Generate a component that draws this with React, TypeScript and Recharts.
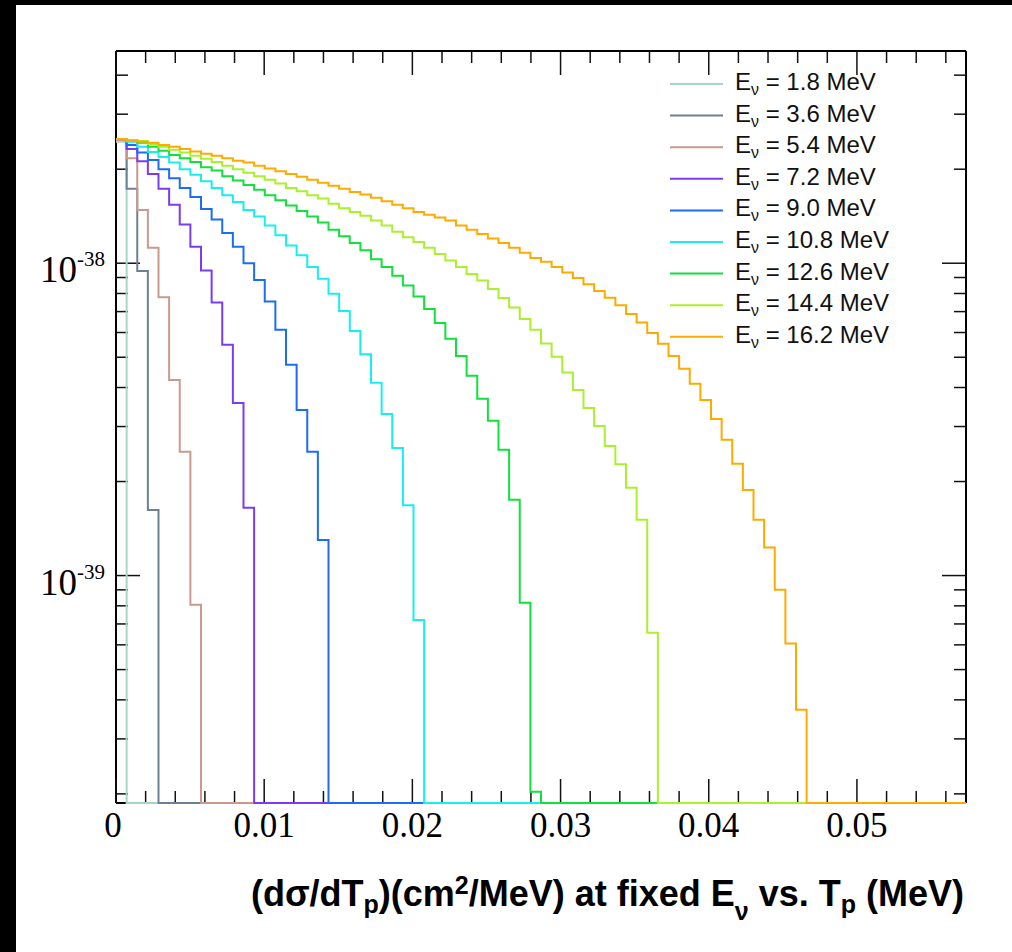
import { Line, LineChart, XAxis, YAxis } from "recharts"

// dσ/dT_p histograms, 80 bins from 0 to X_MAX, one per neutrino energy.
// Values are in units of 1e-38 cm^2/MeV; bins past the end of a list are empty.
const BIN_COUNT = 80
const X_MAX = 0.05736
const Y_MIN = 1.87e-40
const Y_MAX = 4.78e-38
const UNIT = 1e-38

const energies = ["1.8", "3.6", "5.4", "7.2", "9.0", "10.8", "12.6", "14.4", "16.2"]
const colors = ["#a6d6c8", "#6e8094", "#c99a8c", "#7a3cf2", "#1c6cf6", "#18eeee", "#12e03e", "#aaf02c", "#ffaa00"]

const ev18 = [2.45]
const ev36 = [2.48, 1.73, 0.945, 0.162]
const ev54 = [2.48, 2.17, 1.48, 1.12, 0.778, 0.423, 0.249, 0.0806]
const ev72 = [2.5, 2.32, 2.12, 1.93, 1.73, 1.54, 1.33, 1.13, 0.947, 0.748, 0.548, 0.357, 0.165]
const ev90 = [
  2.5, 2.39, 2.26, 2.14, 2.0, 1.87, 1.74, 1.63, 1.49, 1.38, 1.25, 1.13, 1.0, 0.884, 0.754, 0.612, 0.473,
  0.339, 0.249, 0.13,
]
const ev108 = [
  2.5, 2.45, 2.36, 2.27, 2.19, 2.1, 2.0, 1.92, 1.83, 1.74, 1.65, 1.57, 1.48, 1.41, 1.32, 1.23, 1.14, 1.06,
  0.973, 0.891, 0.798, 0.703, 0.607, 0.511, 0.414, 0.329, 0.256, 0.168, 0.0721,
]
const ev126 = [
  2.5, 2.48, 2.43, 2.36, 2.29, 2.22, 2.17, 2.11, 2.03, 1.98, 1.9, 1.84, 1.78, 1.72, 1.65, 1.59, 1.53, 1.47,
  1.41, 1.35, 1.28, 1.22, 1.16, 1.1, 1.03, 0.973, 0.911, 0.849, 0.783, 0.714, 0.644, 0.573, 0.505, 0.436,
  0.368, 0.313, 0.253, 0.175, 0.0818, 0.0203,
]
const ev144 = [
  2.5, 2.48, 2.46, 2.41, 2.36, 2.31, 2.26, 2.21, 2.16, 2.11, 2.05, 2.0, 1.95, 1.9, 1.85, 1.8, 1.74, 1.7,
  1.65, 1.61, 1.55, 1.5, 1.46, 1.42, 1.37, 1.32, 1.26, 1.21, 1.17, 1.12, 1.07, 1.02, 0.973, 0.924, 0.881,
  0.827, 0.774, 0.722, 0.663, 0.612, 0.553, 0.502, 0.447, 0.393, 0.344, 0.301, 0.26, 0.227, 0.191, 0.151,
  0.0656,
]
const ev162 = [
  2.5, 2.47, 2.45, 2.43, 2.39, 2.36, 2.32, 2.28, 2.24, 2.21, 2.17, 2.13, 2.1, 2.05, 2.01, 1.97, 1.93, 1.89,
  1.85, 1.81, 1.77, 1.73, 1.69, 1.66, 1.62, 1.58, 1.54, 1.5, 1.46, 1.43, 1.4, 1.37, 1.32, 1.28, 1.24, 1.2,
  1.16, 1.12, 1.08, 1.04, 1.01, 0.973, 0.933, 0.897, 0.857, 0.815, 0.775, 0.733, 0.688, 0.646, 0.598,
  0.552, 0.505, 0.459, 0.411, 0.365, 0.317, 0.272, 0.228, 0.188, 0.151, 0.123, 0.09, 0.0606, 0.0372,
]
const seriesValues = [ev18, ev36, ev54, ev72, ev90, ev108, ev126, ev144, ev162]

const xTicks = [
  0, 0.002, 0.004, 0.006, 0.008, 0.01, 0.012, 0.014, 0.016, 0.018, 0.02, 0.022, 0.024, 0.026, 0.028, 0.03,
  0.032, 0.034, 0.036, 0.038, 0.04, 0.042, 0.044, 0.046, 0.048, 0.05, 0.052, 0.054, 0.056,
]
const yTicks = [
  2e-40, 3e-40, 4e-40, 5e-40, 6e-40, 7e-40, 8e-40, 9e-40, 1e-39, 2e-39, 3e-39, 4e-39, 5e-39, 6e-39, 7e-39,
  8e-39, 9e-39, 1e-38, 2e-38, 3e-38, 4e-38,
]

// empty bins sit on the bottom of the frame, as in a ROOT log plot
const data = Array.from({ length: BIN_COUNT + 1 }, (_, i) => {
  const row: Record<string, number> = { t: (i * X_MAX) / BIN_COUNT }
  seriesValues.forEach((vals, s) => {
    const v = i < BIN_COUNT ? vals[i] ?? 0 : 0
    row[`s${s}`] = v > 0 ? v * UNIT : Y_MIN
  })
  return row
})

const SERIF = "'Liberation Serif', 'Times New Roman', serif"
const SANS = "'Liberation Sans', Arial, Helvetica, sans-serif"
const TICK = "#111"
const W = 1012
const H = 952
// plot frame: x 116..966, y 51..803
const plotMargin = { top: 51, right: 46, bottom: 149, left: 116 }

const isMajorX = (v: number) => Math.round(v * 1000) % 10 === 0
const isMajorY = (v: number) => Math.abs(Math.log10(v) - Math.round(Math.log10(v))) < 1e-6

function BottomTick({ x, y, payload }: any) {
  const major = isMajorX(payload.value)
  return (
    <g>
      <line x1={x} x2={x} y1={y} y2={y - (major ? 24 : 12)} stroke={TICK} strokeWidth={1.5} />
      {major && (
        <text
          x={payload.value === 0 ? x - 3 : x}
          y={y + 34}
          textAnchor="middle"
          fontFamily={SERIF}
          fontSize={35}
          fill="#000"
        >
          {payload.value === 0 ? "0" : payload.value.toFixed(2)}
        </text>
      )}
    </g>
  )
}

function TopTick({ x, y, payload }: any) {
  const major = isMajorX(payload.value)
  return <line x1={x} x2={x} y1={y} y2={y + (major ? 24 : 12)} stroke={TICK} strokeWidth={1.5} />
}

function LeftTick({ x, y, payload }: any) {
  const major = isMajorY(payload.value)
  const exp = Math.round(Math.log10(payload.value))
  return (
    <g>
      <line x1={x} x2={x + (major ? 24 : 12)} y1={y} y2={y} stroke={TICK} strokeWidth={1.5} />
      {major && (
        <text x={x - 11} y={y + 19} textAnchor="end" fontFamily={SERIF} fontSize={37} fill="#000">
          10
          <tspan fontSize={21} dy={-16}>
            {exp}
          </tspan>
        </text>
      )}
    </g>
  )
}

function RightTick({ x, y, payload }: any) {
  const major = isMajorY(payload.value)
  return <line x1={x} x2={x - (major ? 24 : 12)} y1={y} y2={y} stroke={TICK} strokeWidth={1.5} />
}

const axisLine = { stroke: "#000", strokeWidth: 2 }

// frame, ticks and labels
function Frame() {
  return (
    <LineChart width={W} height={H} data={data} margin={{ top: 41, right: 36, bottom: 89, left: 16 }}>
      <XAxis
        dataKey="t"
        type="number"
        domain={[0, X_MAX]}
        ticks={xTicks}
        interval={0}
        height={60}
        tickSize={0}
        tickMargin={0}
        tickLine={false}
        axisLine={axisLine}
        tick={BottomTick}
      />
      <XAxis
        xAxisId="top"
        dataKey="t"
        orientation="top"
        type="number"
        domain={[0, X_MAX]}
        ticks={xTicks}
        interval={0}
        height={10}
        tickSize={0}
        tickMargin={0}
        tickLine={false}
        axisLine={axisLine}
        tick={TopTick}
      />
      <YAxis
        dataKey="s8"
        type="number"
        scale="log"
        domain={[Y_MIN, Y_MAX]}
        ticks={yTicks}
        interval={0}
        width={100}
        tickSize={0}
        tickMargin={0}
        tickLine={false}
        axisLine={axisLine}
        tick={LeftTick}
      />
      <YAxis
        yAxisId="right"
        dataKey="s8"
        orientation="right"
        type="number"
        scale="log"
        domain={[Y_MIN, Y_MAX]}
        ticks={yTicks}
        interval={0}
        width={10}
        tickSize={0}
        tickMargin={0}
        tickLine={false}
        axisLine={axisLine}
        tick={RightTick}
      />
      <Line dataKey="s8" stroke="none" dot={false} activeDot={false} isAnimationActive={false} />
      <Line
        yAxisId="right"
        xAxisId="top"
        dataKey="s8"
        stroke="none"
        dot={false}
        activeDot={false}
        isAnimationActive={false}
      />
    </LineChart>
  )
}

// histograms, drawn above the frame so empty bins colour the bottom edge
function Histograms() {
  return (
    <LineChart width={W} height={H} data={data} margin={plotMargin}>
      <XAxis dataKey="t" type="number" domain={[0, X_MAX]} hide />
      <YAxis type="number" scale="log" domain={[Y_MIN, Y_MAX]} hide />
      {energies.map((e, s) => (
        <Line
          key={e}
          dataKey={`s${s}`}
          name={`E = ${e} MeV`}
          type="stepAfter"
          stroke={colors[s]}
          strokeWidth={2}
          dot={false}
          activeDot={false}
          isAnimationActive={false}
        />
      ))}
    </LineChart>
  )
}

export default function App() {
  const layer = { position: "absolute" as const, left: 0, top: 0 }
  return (
    <div style={{ position: "fixed", left: 0, top: 0, width: W, height: H, background: "#fff" }}>
      <div style={{ ...layer, width: W, height: 5, background: "#000" }} />
      <div style={{ ...layer, width: 16, height: H, background: "#000" }} />
      <div style={layer}>
        <Frame />
      </div>
      <div style={layer}>
        <Histograms />
      </div>
      <svg width={W} height={H} style={{ ...layer, pointerEvents: "none" }}>
        {energies.map((e, s) => {
          const cy = 84 + s * 31.6
          return (
            <g key={e}>
              <line x1={670} x2={723} y1={cy} y2={cy} stroke={colors[s]} strokeWidth={2} />
              <text x={735} y={cy + 6} fontFamily={SANS} fontSize={24} fill="#111">
                E
                <tspan fontSize={16} dy={5}>
                  ν
                </tspan>
                <tspan dy={-5}>{` = ${e} MeV`}</tspan>
              </text>
            </g>
          )
        })}
        <text x={964} y={906} textAnchor="end" fontFamily={SANS} fontWeight="bold" fontSize={36} fill="#000">
          (dσ/dT
          <tspan fontSize={25} dy={7}>
            p
          </tspan>
          <tspan dy={-7}>)(cm</tspan>
          <tspan fontSize={25} dy={-12}>
            2
          </tspan>
          <tspan dy={12}>/MeV) at fixed E</tspan>
          <tspan fontSize={25} dy={14}>
            ν
          </tspan>
          <tspan dy={-14}> vs. T</tspan>
          <tspan fontSize={25} dy={7}>
            p
          </tspan>
          <tspan dy={-7}> (MeV)</tspan>
        </text>
      </svg>
    </div>
  )
}
